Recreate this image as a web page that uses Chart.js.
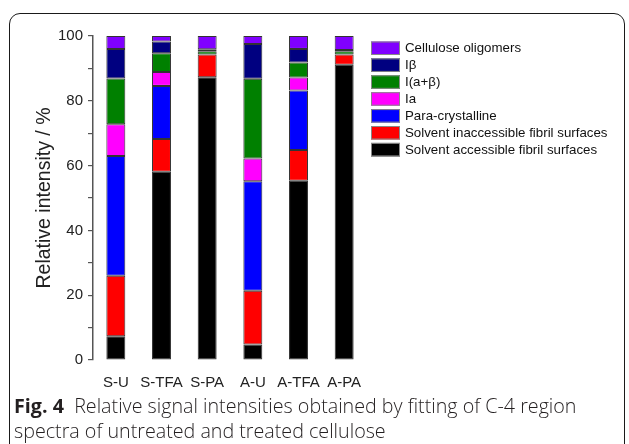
<!DOCTYPE html>
<html>
<head>
<meta charset="utf-8">
<script src="https://cdn.jsdelivr.net/npm/chart.js@4/dist/chart.umd.min.js"></script>
<style>
  html, body { margin: 0; padding: 0; background: #fff; width: 629px; height: 444px; overflow: hidden; }
  #frame { position: absolute; left: 9px; top: 13px; width: 616px; height: 470px; border: 1.5px solid #1a1a1a; border-radius: 11px; box-sizing: border-box; }
  #wrap { position: absolute; left: 0; top: 0; width: 629px; height: 400px; }
  #caption { position: absolute; left: 14px; top: 393px; width: 610px; font-family: "Open Sans", sans-serif; font-size: 19.7px; line-height: 25px; color: #231f20; font-weight: 300; }
  #caption b { font-weight: 700; }
</style>
</head>
<body>
<div id="frame"></div>
<div id="wrap"><canvas id="c" width="629" height="400"></canvas></div>
<div id="caption"><b>Fig. 4</b>&nbsp; Relative signal intensities obtained by fitting of C-4 region<br>spectra of untreated and treated cellulose</div>
<script>
const categories = ["S-U", "S-TFA", "S-PA", "A-U", "A-TFA", "A-PA"];
const seriesNames = [
  "Solvent accessible fibril surfaces",
  "Solvent inaccessible fibril surfaces",
  "Para-crystalline",
  "Ia",
  "I(a+β)",
  "Iβ",
  "Cellulose oligomers"
];
const seriesColors = ["#000000", "#ff0000", "#0000ff", "#ff00ff", "#008000", "#000080", "#8000ff"];
const accessible   = [7.3, 58.1, 87.3, 4.8, 55.3, 91.1];
const inaccessible = [18.7, 10.1, 7.0, 16.6, 9.5, 3.2];
const paraCryst    = [37.0, 16.4, null, 33.8, 18.4, null];
const ia           = [9.8, 4.3, null, 7.0, 4.0, null];
const iab          = [14.1, 5.8, 1.0, 24.6, 4.6, 1.0];
const ib           = [9.1, 3.6, 0.6, 10.7, 4.2, 0.4];
const oligomers    = [4.0, 1.7, 4.1, 2.5, 4.0, 4.3];
const yTicks = [0, 20, 40, 60, 80, 100];

const seriesValues = [accessible, inaccessible, paraCryst, ia, iab, ib, oligomers];

const legendPlugin = {
  id: 'customLegend',
  afterDraw(chart) {
    const ctx = chart.ctx;
    const ds = chart.data.datasets;
    const x0 = 371, y0 = 41.5, rowH = 16.9, bw = 29, bh = 13.5;
    ctx.save();
    ctx.font = '13.3px "Liberation Sans", Arial, sans-serif';
    ctx.textBaseline = 'middle';
    ctx.textAlign = 'left';
    for (let i = 0; i < ds.length; i++) {
      const d = ds[ds.length - 1 - i];
      const y = y0 + i * rowH;
      ctx.fillStyle = d.backgroundColor;
      ctx.fillRect(x0, y, bw, bh);
      ctx.strokeStyle = '#888';
      ctx.lineWidth = 1;
      ctx.strokeRect(x0 + 0.5, y + 0.5, bw - 1, bh - 1);
      ctx.fillStyle = '#111';
      ctx.fillText(d.label, x0 + bw + 5, y + bh / 2 + 0.5);
    }
    ctx.restore();
  }
};

new Chart(document.getElementById('c'), {
  type: 'bar',
  data: {
    labels: categories,
    datasets: seriesNames.map((name, i) => ({
      label: name,
      data: seriesValues[i],
      backgroundColor: seriesColors[i],
      borderColor: '#333',
      borderWidth: 1,
      borderSkipped: false,
      categoryPercentage: 1.0,
      barPercentage: 0.415
    }))
  },
  options: {
    responsive: false,
    animation: false,
    devicePixelRatio: 1,
    layout: { padding: { left: 0, right: 262, top: 36, bottom: 0 } },
    plugins: { legend: { display: false }, tooltip: { enabled: false } },
    scales: {
      x: {
        stacked: true,
        grid: { display: false },
        border: { display: false },
        ticks: { color: '#222', font: { family: '"Liberation Sans", Arial, sans-serif', size: 15 }, padding: 6, maxRotation: 0, minRotation: 0, autoSkip: false },
        afterFit(scale) { scale.height = 40; }
      },
      y: {
        stacked: true,
        min: 0, max: 100,
        afterBuildTicks(scale) {
          const t = [];
          for (let v = 0; v <= 100; v += 10) t.push({ value: v });
          scale.ticks = t;
        },
        ticks: {
          color: '#222',
          font: { family: '"Liberation Sans", Arial, sans-serif', size: 15 },
          padding: 5,
          autoSkip: false,
          callback: (v) => yTicks.includes(v) ? String(v) : ''
        },
        grid: { drawOnChartArea: false, drawTicks: true, tickLength: 5, color: '#555', lineWidth: 1.2 },
        border: { display: true, color: '#555', width: 1.5 },
        title: {
          display: true,
          text: 'Relative intensity / %',
          color: '#222',
          font: { family: '"Liberation Sans", Arial, sans-serif', size: 19.5 },
          padding: { top: 33, bottom: 0 }
        },
        afterFit(scale) { scale.width = 93; }
      }
    }
  },
  plugins: [legendPlugin]
});
</script>
</body>
</html>
